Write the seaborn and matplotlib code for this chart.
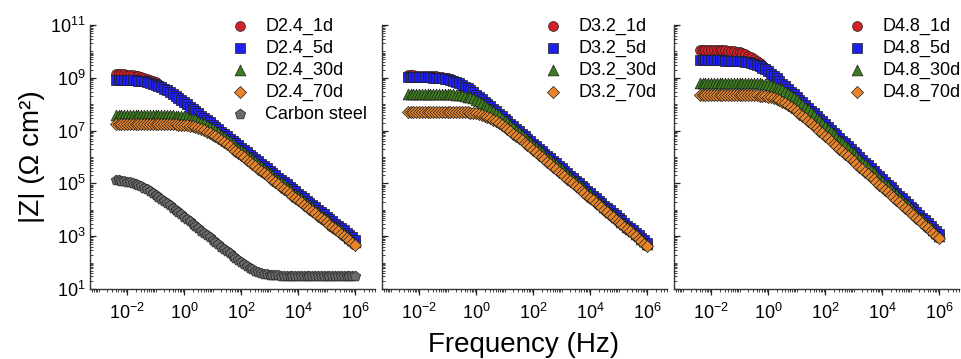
import numpy as np
import matplotlib
matplotlib.use("Agg")
import matplotlib.pyplot as plt
import seaborn as sns
from matplotlib.ticker import LogLocator, FixedLocator, NullFormatter, LogFormatterSciNotation

# ---------------- data (log10 values) ----------------
freq_log = [-2.4, -2.3, -2.2, -2.1, -2.0, -1.9, -1.8, -1.7, -1.6, -1.5, -1.4, -1.3, -1.2, -1.1,
            -1.0, -0.9, -0.8, -0.7, -0.6, -0.5, -0.4, -0.3, -0.2, -0.1, 0.0, 0.1, 0.2, 0.3,
            0.4, 0.5, 0.6, 0.7, 0.8, 0.9, 1.0, 1.1, 1.2, 1.3, 1.4, 1.5, 1.6, 1.7, 1.8, 1.9,
            2.0, 2.1, 2.2, 2.3, 2.4, 2.5, 2.6, 2.7, 2.8, 2.9, 3.0, 3.1, 3.2, 3.3, 3.4, 3.5,
            3.6, 3.7, 3.8, 3.9, 4.0, 4.1, 4.2, 4.3, 4.4, 4.5, 4.6, 4.7, 4.8, 4.9, 5.0, 5.1,
            5.2, 5.3, 5.4, 5.5, 5.6, 5.7, 5.8, 5.9, 6.0]

# Panel 1: D2.4 coatings + bare carbon steel  (log10 |Z|, Ohm cm^2)
d24_1d = [9.14, 9.135, 9.13, 9.125, 9.12, 9.11, 9.10, 9.085, 9.07, 9.04, 9.01, 8.97, 8.93, 8.88,
          8.83, 8.77, 8.70, 8.63, 8.55, 8.48, 8.40, 8.32, 8.23, 8.15, 8.06, 7.98, 7.89, 7.81,
          7.72, 7.64, 7.55, 7.46, 7.37, 7.29, 7.20, 7.12, 7.03, 6.94, 6.85, 6.77, 6.68, 6.59,
          6.50, 6.42, 6.33, 6.25, 6.16, 6.07, 5.98, 5.90, 5.81, 5.72, 5.63, 5.55, 5.46, 5.38,
          5.29, 5.20, 5.11, 5.03, 4.94, 4.85, 4.76, 4.68, 4.59, 4.51, 4.42, 4.33, 4.24, 4.16,
          4.07, 3.98, 3.89, 3.81, 3.72, 3.64, 3.55, 3.46, 3.37, 3.29, 3.20, 3.11, 3.02, 2.94, 2.85]
d24_5d = [8.93, 8.925, 8.92, 8.92, 8.92, 8.915, 8.91, 8.90, 8.89, 8.875, 8.86, 8.84, 8.81, 8.78,
          8.74, 8.70, 8.65, 8.59, 8.53, 8.46, 8.39, 8.32, 8.24, 8.16, 8.07, 7.99, 7.91, 7.83,
          7.74, 7.66, 7.57, 7.48, 7.39, 7.31, 7.22, 7.14, 7.05, 6.96, 6.87, 6.79, 6.70, 6.61,
          6.52, 6.44, 6.35, 6.27, 6.18, 6.09, 6.00, 5.92, 5.83, 5.74, 5.65, 5.57, 5.48, 5.40,
          5.31, 5.22, 5.13, 5.05, 4.96, 4.87, 4.78, 4.70, 4.61, 4.53, 4.44, 4.35, 4.26, 4.18,
          4.09, 4.00, 3.91, 3.83, 3.74, 3.66, 3.57, 3.48, 3.39, 3.31, 3.22, 3.13, 3.04, 2.96, 2.87]
d24_30d = [7.60, 7.60, 7.60, 7.60, 7.60, 7.60, 7.60, 7.60, 7.60, 7.60, 7.60, 7.60, 7.60, 7.60,
           7.60, 7.595, 7.59, 7.59, 7.59, 7.585, 7.58, 7.57, 7.56, 7.55, 7.54, 7.52, 7.49, 7.46,
           7.43, 7.38, 7.33, 7.28, 7.22, 7.15, 7.08, 7.01, 6.93, 6.85, 6.77, 6.69, 6.60, 6.52,
           6.43, 6.35, 6.26, 6.18, 6.09, 6.00, 5.91, 5.83, 5.74, 5.65, 5.56, 5.48, 5.39, 5.31,
           5.22, 5.13, 5.04, 4.96, 4.87, 4.78, 4.69, 4.61, 4.52, 4.44, 4.35, 4.26, 4.17, 4.09,
           4.00, 3.91, 3.82, 3.74, 3.65, 3.57, 3.48, 3.39, 3.30, 3.22, 3.13, 3.04, 2.95, 2.87, 2.78]
d24_70d = [7.26, 7.26, 7.26, 7.26, 7.26, 7.26, 7.26, 7.26, 7.26, 7.26, 7.26, 7.26, 7.26, 7.26,
           7.26, 7.255, 7.25, 7.25, 7.25, 7.25, 7.25, 7.24, 7.23, 7.22, 7.21, 7.20, 7.18, 7.16,
           7.13, 7.10, 7.06, 7.01, 6.96, 6.90, 6.84, 6.78, 6.71, 6.64, 6.56, 6.48, 6.40, 6.32,
           6.23, 6.15, 6.07, 5.99, 5.90, 5.82, 5.73, 5.65, 5.56, 5.48, 5.39, 5.31, 5.22, 5.14,
           5.05, 4.97, 4.88, 4.80, 4.71, 4.63, 4.54, 4.46, 4.37, 4.29, 4.20, 4.12, 4.03, 3.95,
           3.86, 3.78, 3.69, 3.61, 3.52, 3.44, 3.35, 3.27, 3.18, 3.10, 3.01, 2.93, 2.84, 2.76, 2.67]
carbon_steel = [5.12, 5.11, 5.10, 5.085, 5.07, 5.05, 5.02, 4.98, 4.94, 4.89, 4.83, 4.77, 4.71,
                4.64, 4.57, 4.49, 4.41, 4.33, 4.25, 4.165, 4.08, 3.995, 3.91, 3.825, 3.74, 3.65,
                3.56, 3.475, 3.39, 3.30, 3.21, 3.125, 3.04, 2.955, 2.87, 2.78, 2.69, 2.605, 2.52,
                2.435, 2.35, 2.265, 2.18, 2.10, 2.02, 1.94, 1.87, 1.80, 1.74, 1.69, 1.64, 1.60,
                1.57, 1.55, 1.54, 1.53, 1.52, 1.515, 1.51, 1.505, 1.50, 1.50, 1.50, 1.50, 1.50,
                1.495, 1.49, 1.49, 1.49, 1.49, 1.49, 1.49, 1.49, 1.49, 1.49, 1.49, 1.49, 1.49,
                1.49, 1.49, 1.49, 1.49, 1.49, 1.49, 1.49]

# Panel 2: D3.2
d32_1d = [9.09, 9.09, 9.09, 9.085, 9.08, 9.08, 9.08, 9.075, 9.07, 9.065, 9.06, 9.045, 9.03, 9.005,
          8.98, 8.94, 8.90, 8.85, 8.80, 8.735, 8.67, 8.595, 8.52, 8.435, 8.35, 8.26, 8.17, 8.08,
          7.99, 7.895, 7.80, 7.71, 7.62, 7.525, 7.43, 7.335, 7.24, 7.145, 7.05, 6.96, 6.87, 6.775,
          6.68, 6.585, 6.49, 6.395, 6.30, 6.205, 6.11, 6.02, 5.93, 5.835, 5.74, 5.645, 5.55, 5.455,
          5.36, 5.265, 5.17, 5.08, 4.99, 4.895, 4.80, 4.705, 4.61, 4.515, 4.42, 4.325, 4.23, 4.14,
          4.05, 3.955, 3.86, 3.765, 3.67, 3.575, 3.48, 3.385, 3.29, 3.20, 3.11, 3.015, 2.92, 2.825,
          2.73]
d32_5d = [9.03, 9.03, 9.03, 9.025, 9.02, 9.02, 9.02, 9.02, 9.02, 9.01, 9.00, 8.99, 8.98, 8.96,
          8.94, 8.915, 8.89, 8.84, 8.79, 8.73, 8.67, 8.60, 8.53, 8.445, 8.36, 8.275, 8.19, 8.10,
          8.01, 7.915, 7.82, 7.73, 7.64, 7.545, 7.45, 7.355, 7.26, 7.165, 7.07, 6.98, 6.89, 6.795,
          6.70, 6.605, 6.51, 6.415, 6.32, 6.225, 6.13, 6.04, 5.95, 5.855, 5.76, 5.665, 5.57, 5.475,
          5.38, 5.285, 5.19, 5.10, 5.01, 4.915, 4.82, 4.725, 4.63, 4.535, 4.44, 4.345, 4.25, 4.16,
          4.07, 3.975, 3.88, 3.785, 3.69, 3.595, 3.50, 3.405, 3.31, 3.22, 3.13, 3.035, 2.94, 2.845,
          2.75]
d32_30d = [8.39, 8.39, 8.39, 8.39, 8.39, 8.39, 8.39, 8.39, 8.39, 8.39, 8.39, 8.385, 8.38, 8.38,
           8.38, 8.375, 8.37, 8.36, 8.35, 8.33, 8.31, 8.285, 8.26, 8.22, 8.17, 8.11, 8.05, 7.98,
           7.91, 7.83, 7.75, 7.665, 7.58, 7.49, 7.40, 7.31, 7.22, 7.125, 7.03, 6.94, 6.85, 6.755,
           6.66, 6.565, 6.47, 6.375, 6.28, 6.185, 6.09, 6.00, 5.91, 5.815, 5.72, 5.625, 5.53, 5.435,
           5.34, 5.245, 5.15, 5.06, 4.97, 4.875, 4.78, 4.685, 4.59, 4.495, 4.40, 4.305, 4.21, 4.12,
           4.03, 3.935, 3.84, 3.745, 3.65, 3.555, 3.46, 3.365, 3.27, 3.18, 3.09, 2.995, 2.90, 2.805,
           2.71]
d32_70d = [7.72, 7.72, 7.72, 7.72, 7.72, 7.72, 7.72, 7.72, 7.72, 7.72, 7.72, 7.72, 7.72, 7.72,
           7.72, 7.715, 7.71, 7.71, 7.71, 7.705, 7.70, 7.69, 7.68, 7.665, 7.65, 7.63, 7.60, 7.56,
           7.52, 7.47, 7.42, 7.36, 7.29, 7.22, 7.14, 7.06, 6.98, 6.89, 6.80, 6.715, 6.63, 6.54,
           6.45, 6.36, 6.27, 6.18, 6.09, 6.00, 5.91, 5.815, 5.72, 5.63, 5.54, 5.45, 5.36, 5.27,
           5.18, 5.09, 5.00, 4.905, 4.81, 4.72, 4.63, 4.54, 4.45, 4.36, 4.27, 4.18, 4.09, 3.995,
           3.90, 3.81, 3.72, 3.63, 3.54, 3.45, 3.36, 3.27, 3.18, 3.085, 2.99, 2.90, 2.81, 2.72, 2.63]

# Panel 3: D4.8
d48_1d = [10.05, 10.05, 10.05, 10.05, 10.05, 10.045, 10.04, 10.04, 10.04, 10.035, 10.03, 10.02,
          10.00, 9.98, 9.96, 9.93, 9.89, 9.84, 9.78, 9.71, 9.63, 9.55, 9.47, 9.375, 9.28, 9.18,
          9.08, 8.98, 8.88, 8.775, 8.67, 8.57, 8.47, 8.365, 8.26, 8.155, 8.05, 7.945, 7.84, 7.74,
          7.64, 7.535, 7.43, 7.325, 7.22, 7.115, 7.01, 6.905, 6.80, 6.70, 6.60, 6.495, 6.39, 6.285,
          6.18, 6.075, 5.97, 5.865, 5.76, 5.66, 5.56, 5.455, 5.35, 5.245, 5.14, 5.035, 4.93, 4.825,
          4.72, 4.62, 4.52, 4.415, 4.31, 4.205, 4.10, 3.995, 3.89, 3.785, 3.68, 3.58, 3.48, 3.375,
          3.27, 3.165, 3.06]
d48_5d = [9.66, 9.66, 9.66, 9.66, 9.66, 9.66, 9.66, 9.66, 9.66, 9.655, 9.65, 9.65, 9.65, 9.64,
          9.63, 9.62, 9.61, 9.59, 9.57, 9.54, 9.50, 9.45, 9.39, 9.32, 9.24, 9.155, 9.07, 8.975,
          8.88, 8.78, 8.68, 8.58, 8.48, 8.38, 8.28, 8.175, 8.07, 7.965, 7.86, 7.76, 7.66, 7.555,
          7.45, 7.345, 7.24, 7.135, 7.03, 6.925, 6.82, 6.72, 6.62, 6.515, 6.41, 6.305, 6.20, 6.095,
          5.99, 5.885, 5.78, 5.68, 5.58, 5.475, 5.37, 5.265, 5.16, 5.055, 4.95, 4.845, 4.74, 4.64,
          4.54, 4.435, 4.33, 4.225, 4.12, 4.015, 3.91, 3.805, 3.70, 3.60, 3.50, 3.395, 3.29, 3.185,
          3.08]
d48_30d = [8.81, 8.81, 8.81, 8.81, 8.81, 8.81, 8.81, 8.81, 8.81, 8.81, 8.81, 8.81, 8.81, 8.81,
           8.81, 8.81, 8.81, 8.805, 8.80, 8.80, 8.80, 8.79, 8.78, 8.765, 8.75, 8.725, 8.70, 8.66,
           8.62, 8.57, 8.51, 8.44, 8.36, 8.275, 8.19, 8.09, 7.99, 7.895, 7.80, 7.695, 7.59, 7.49,
           7.39, 7.285, 7.18, 7.075, 6.97, 6.865, 6.76, 6.66, 6.56, 6.455, 6.35, 6.245, 6.14, 6.035,
           5.93, 5.825, 5.72, 5.62, 5.52, 5.415, 5.31, 5.205, 5.10, 4.995, 4.89, 4.785, 4.68, 4.58,
           4.48, 4.375, 4.27, 4.165, 4.06, 3.955, 3.85, 3.745, 3.64, 3.54, 3.44, 3.335, 3.23, 3.125,
           3.02]
d48_70d = [8.35, 8.35, 8.35, 8.35, 8.35, 8.35, 8.35, 8.35, 8.35, 8.35, 8.35, 8.35, 8.35, 8.35,
           8.35, 8.345, 8.34, 8.34, 8.34, 8.335, 8.33, 8.32, 8.31, 8.295, 8.28, 8.26, 8.23, 8.19,
           8.15, 8.10, 8.04, 7.97, 7.90, 7.815, 7.73, 7.645, 7.56, 7.465, 7.37, 7.275, 7.18, 7.085,
           6.99, 6.895, 6.80, 6.705, 6.61, 6.51, 6.41, 6.315, 6.22, 6.12, 6.02, 5.925, 5.83, 5.735,
           5.64, 5.54, 5.44, 5.345, 5.25, 5.15, 5.05, 4.955, 4.86, 4.765, 4.67, 4.57, 4.47, 4.375,
           4.28, 4.18, 4.08, 3.985, 3.89, 3.795, 3.70, 3.60, 3.50, 3.405, 3.31, 3.21, 3.11, 3.015,
           2.92]

panel1_labels = ["D2.4_1d", "D2.4_5d", "D2.4_30d", "D2.4_70d", "Carbon steel"]
panel2_labels = ["D3.2_1d", "D3.2_5d", "D3.2_30d", "D3.2_70d"]
panel3_labels = ["D4.8_1d", "D4.8_5d", "D4.8_30d", "D4.8_70d"]

x_ticks = [1e-2, 1e0, 1e2, 1e4, 1e6]
y_ticks = [1e1, 1e3, 1e5, 1e7, 1e9, 1e11]

# ---------------- styling ----------------
sns.set_style("ticks")
plt.rcParams['font.family'] = ['Liberation Sans', 'DejaVu Sans']
plt.rcParams['mathtext.fontset'] = 'custom'
plt.rcParams['mathtext.rm'] = 'Liberation Sans'
plt.rcParams['mathtext.it'] = 'Liberation Sans:italic'
plt.rcParams['mathtext.bf'] = 'Liberation Sans:bold'
plt.rcParams['axes.unicode_minus'] = False
plt.rcParams['text.color'] = 'black'
plt.rcParams['axes.labelcolor'] = 'black'

COLORS = ["#d42027", "#2020ee", "#3c7d1c", "#e8852b", "#6a6a6a"]
MARKERS = ["o", "s", "^", "D", "p"]
SIZES = [50, 44, 60, 38, 60]
EDGE = "#1e1e1e"

panels = [
    (panel1_labels, [d24_1d, d24_5d, d24_30d, d24_70d, carbon_steel], 0.501),
    (panel2_labels, [d32_1d, d32_5d, d32_30d, d32_70d], 0.575),
    (panel3_labels, [d48_1d, d48_5d, d48_30d, d48_70d], 0.617),
]

fig = plt.figure(figsize=(9.61, 3.59), dpi=100)
W = 285 / 961
H = 264 / 359
B = 1 - 289 / 359
lefts = [90, 382, 674]

freq = 10 ** np.array(freq_log)

for i, (labels, series, legx) in enumerate(panels):
    ax = fig.add_axes([lefts[i] / 961, B, W, H])
    ax.set_xscale("log")
    ax.set_yscale("log")
    for j, (lab, vals) in enumerate(zip(labels, series)):
        assert len(vals) == len(freq_log), (lab, len(vals))
        sns.scatterplot(x=freq, y=10 ** np.array(vals), ax=ax, marker=MARKERS[j],
                        color=COLORS[j], s=SIZES[j], edgecolor=EDGE, linewidth=0.5,
                        label=lab, zorder=3 + j)
    ax.set_xlim(10 ** -3.3, 10 ** 6.7)
    ax.set_ylim(10, 1e11)
    ax.xaxis.set_major_locator(FixedLocator(x_ticks))
    ax.xaxis.set_minor_locator(LogLocator(base=10, subs=np.arange(1, 10), numticks=200))
    ax.xaxis.set_major_formatter(LogFormatterSciNotation())
    ax.xaxis.set_minor_formatter(NullFormatter())
    ax.yaxis.set_major_locator(FixedLocator(y_ticks))
    ax.yaxis.set_minor_locator(LogLocator(base=10, subs=np.arange(1, 10), numticks=200))
    ax.yaxis.set_major_formatter(LogFormatterSciNotation())
    ax.yaxis.set_minor_formatter(NullFormatter())
    ax.tick_params(axis="x", which="major", direction="out", length=4, width=0.9,
                   labelsize=13, pad=6, colors="#222222", labelcolor="black")
    ax.tick_params(axis="x", which="minor", direction="out", length=2.2, width=0.6, colors="#222222")
    ax.tick_params(axis="y", which="major", direction="in", length=4, width=0.9,
                   labelsize=13, pad=3, colors="#222222", labelcolor="black")
    ax.tick_params(axis="y", which="minor", direction="in", length=2.2, width=0.6, colors="#222222")
    if i > 0:
        ax.tick_params(axis="y", labelleft=False)
    sns.despine(ax=ax)
    for sp in ("left", "bottom"):
        ax.spines[sp].set_linewidth(1.0)
        ax.spines[sp].set_color("#333333")
    ax.set_xlabel("")
    ax.set_ylabel("")
    leg = ax.legend(loc="upper left", bbox_to_anchor=(legx, 1.028), frameon=False, fontsize=13,
                    handlelength=0.8, handletextpad=0.99, labelspacing=0.27, borderpad=0,
                    borderaxespad=0, scatterpoints=1)
    for t in leg.get_texts():
        t.set_color("black")
    if i == 0:
        ax.set_ylabel("|Z| (Ω cm²)", fontsize=20, color="black")
        ax.yaxis.set_label_coords(-0.158, 0.5)

fig.text(524 / 961, 1 - 345 / 359, "Frequency (Hz)", fontsize=20, ha="center", va="center",
         color="black")

fig.savefig("out.png", dpi=100)
